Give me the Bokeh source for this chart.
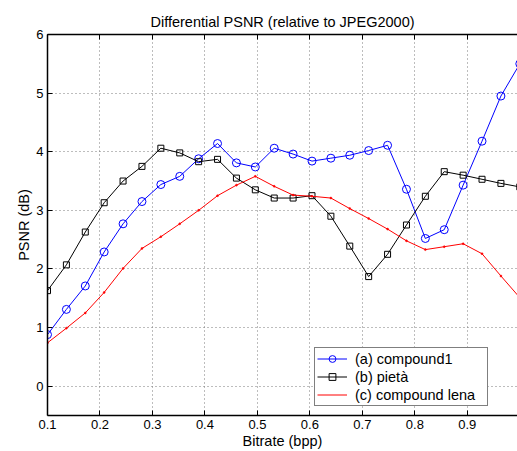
from bokeh.plotting import figure
from bokeh.models import Range1d, LinearAxis, FixedTicker, Legend, LegendItem
from bokeh.embed import file_html
from bokeh.resources import INLINE

FONT = "Liberation Sans"

bitrate = [0.1, 0.136, 0.172, 0.208, 0.244, 0.28, 0.316, 0.352, 0.388, 0.424,
           0.46, 0.496, 0.532, 0.568, 0.604, 0.64, 0.676, 0.712, 0.748, 0.784,
           0.82, 0.856, 0.892, 0.928, 0.964, 1.0]
compound1 = [0.88, 1.31, 1.71, 2.29, 2.77, 3.15, 3.44, 3.58, 3.88, 4.14,
             3.81, 3.74, 4.06, 3.96, 3.84, 3.89, 3.94, 4.02, 4.11, 3.36,
             2.52, 2.67, 3.43, 4.18, 4.95, 5.50]
pieta = [1.63, 2.07, 2.63, 3.13, 3.50, 3.75, 4.06, 3.98, 3.83, 3.87,
         3.55, 3.35, 3.21, 3.21, 3.25, 2.90, 2.39, 1.87, 2.25, 2.75,
         3.24, 3.66, 3.60, 3.53, 3.46, 3.40]
compound_lena = [0.74, 0.99, 1.25, 1.60, 2.01, 2.35, 2.55, 2.77, 3.00, 3.25,
                 3.43, 3.58, 3.41, 3.26, 3.24, 3.21, 3.03, 2.86, 2.68, 2.48,
                 2.33, 2.38, 2.43, 2.26, 1.88, 1.51]
x_ticks = [0.1, 0.2, 0.3, 0.4, 0.5, 0.6, 0.7, 0.8, 0.9, 1.0]
y_ticks = [0, 1, 2, 3, 4, 5, 6]
labels = ["(a) compound1", "(b) pietà", "(c) compound lena"]

p = figure(width=517, height=451, output_backend="svg", toolbar_location=None,
           x_range=Range1d(0.1, 0.9956), y_range=Range1d(-0.5, 6),
           min_border_left=47, min_border_right=0, min_border_top=34,
           min_border_bottom=35,
           title="Differential PSNR (relative to JPEG2000)",
           x_axis_label="Bitrate (bpp)", y_axis_label="PSNR (dB)")
p.outline_line_color = None
p.background_fill_color = "white"
p.border_fill_color = "white"

p.title.align = "center"
p.title.text_font = FONT
p.title.text_font_size = "14.5px"
p.title.text_font_style = "normal"
p.title.text_color = "black"

for ax, ticks in ((p.xaxis[0], x_ticks), (p.yaxis[0], y_ticks)):
    ax.ticker = FixedTicker(ticks=ticks)
    ax.major_tick_in = 5
    ax.major_tick_out = 0
    ax.minor_tick_line_color = None
    ax.axis_line_width = 1.5
    ax.axis_line_color = "black"
    ax.major_tick_line_color = "black"
    ax.major_label_text_font = FONT
    ax.major_label_text_font_size = "13px"
    ax.major_label_text_color = "black"
    ax.axis_label_text_font = FONT
    ax.axis_label_text_font_size = "14.5px"
    ax.axis_label_text_font_style = "normal"
    ax.axis_label_text_color = "black"
    ax.major_label_standoff = 4

p.xaxis[0].axis_label_standoff = 1
p.yaxis[0].axis_label_standoff = 1

top = LinearAxis(ticker=FixedTicker(ticks=x_ticks), major_tick_in=5,
                 major_tick_out=0, minor_tick_line_color=None,
                 axis_line_width=1.5, major_label_text_font_size="0px",
                 major_label_text_color=None, major_label_standoff=0)
p.add_layout(top, "above")

for g, ticks in ((p.xgrid[0], x_ticks), (p.ygrid[0], y_ticks)):
    g.ticker = FixedTicker(ticks=ticks)
    g.grid_line_color = "#7a7a7a"
    g.grid_line_dash = "1 3"
    g.grid_line_width = 1

l1 = p.line(bitrate, compound1, line_color="#0000ff", line_width=1)
s1 = p.scatter(bitrate, compound1, marker="circle", size=8,
               line_color="#0000ff", fill_color=None, line_width=1)
l2 = p.line(bitrate, pieta, line_color="black", line_width=1)
s2 = p.scatter(bitrate, pieta, marker="square", size=6,
               line_color="black", fill_color=None, line_width=1)
l3 = p.line(bitrate, compound_lena, line_color="#ff0000", line_width=1)
s3 = p.scatter(bitrate, compound_lena, marker="circle", size=2,
               line_color="#ff0000", fill_color="#ff0000", line_width=0.5)

legend = Legend(items=[LegendItem(label=labels[0], renderers=[l1, s1]),
                       LegendItem(label=labels[1], renderers=[l2, s2]),
                       LegendItem(label=labels[2], renderers=[l3])],
                location=(267, 9), orientation="vertical",
                border_line_color="black", border_line_width=1,
                background_fill_color="white", background_fill_alpha=1,
                padding=2, spacing=1, margin=0, label_standoff=8,
                glyph_width=30, glyph_height=17, label_height=17,
                label_width=130,
                label_text_font=FONT, label_text_font_size="14.5px",
                label_text_color="black")
p.add_layout(legend)

open("out.html", "w").write(file_html(p, INLINE))
